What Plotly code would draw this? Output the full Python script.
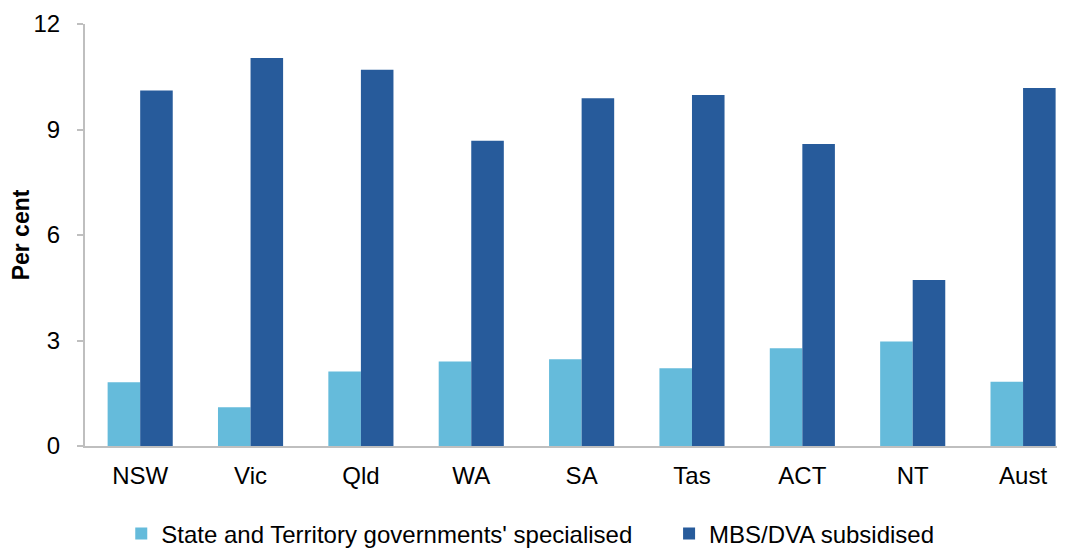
import plotly.graph_objects as go

CATEGORIES = ["NSW", "Vic", "Qld", "WA", "SA", "Tas", "ACT", "NT", "Aust"]
STATE_SPECIALISED = [1.81, 1.10, 2.12, 2.40, 2.47, 2.21, 2.78, 2.97, 1.83]
MBS_DVA = [10.11, 11.03, 10.70, 8.68, 9.89, 9.98, 8.59, 4.72, 10.18]

FONT = "Liberation Sans, Arial, sans-serif"
AXIS_GREY = "#bfbfbf"

fig = go.Figure()
fig.add_trace(go.Bar(
    x=CATEGORIES, y=STATE_SPECIALISED,
    name="State and Territory governments' specialised",
    marker=dict(color="#65bbdb", line=dict(width=0)),
    legend="legend",
))
fig.add_trace(go.Bar(
    x=CATEGORIES, y=MBS_DVA,
    name="MBS/DVA subsidised",
    marker=dict(color="#275b9b", line=dict(width=0)),
    legend="legend2",
))

legend_style = dict(
    orientation="h", yanchor="top", y=-0.155, xanchor="left",
    font=dict(size=24), itemwidth=30, bgcolor="rgba(0,0,0,0)",
)

# page body has an 8px margin, so margins are shifted to compensate
fig.update_layout(
    width=1065, height=551,
    margin=dict(l=77, r=8, t=16, b=113, autoexpand=False),
    paper_bgcolor="white", plot_bgcolor="white",
    barmode="group", bargap=0.41, bargroupgap=0,
    font=dict(family=FONT, size=24, color="black"),
    legend=dict(x=0.037, **legend_style),
    legend2=dict(x=0.596, **legend_style),
    showlegend=True,
)
fig.update_xaxes(
    type="category", range=[-0.5, 8.38],
    showline=True, linecolor=AXIS_GREY, linewidth=2,
    ticks="", ticklabelstandoff=7, showgrid=False,
    tickfont=dict(size=24),
)
fig.update_yaxes(
    range=[0, 12], tickvals=[0, 3, 6, 9, 12],
    showline=True, linecolor=AXIS_GREY, linewidth=2,
    ticks="outside", ticklen=6, tickcolor=AXIS_GREY, tickwidth=2,
    ticklabelstandoff=12,
    showgrid=False, zeroline=False,
    tickfont=dict(size=24),
    title=dict(text="<b>Per cent</b>", font=dict(size=23), standoff=14),
)

fig.write_html("out.html")
